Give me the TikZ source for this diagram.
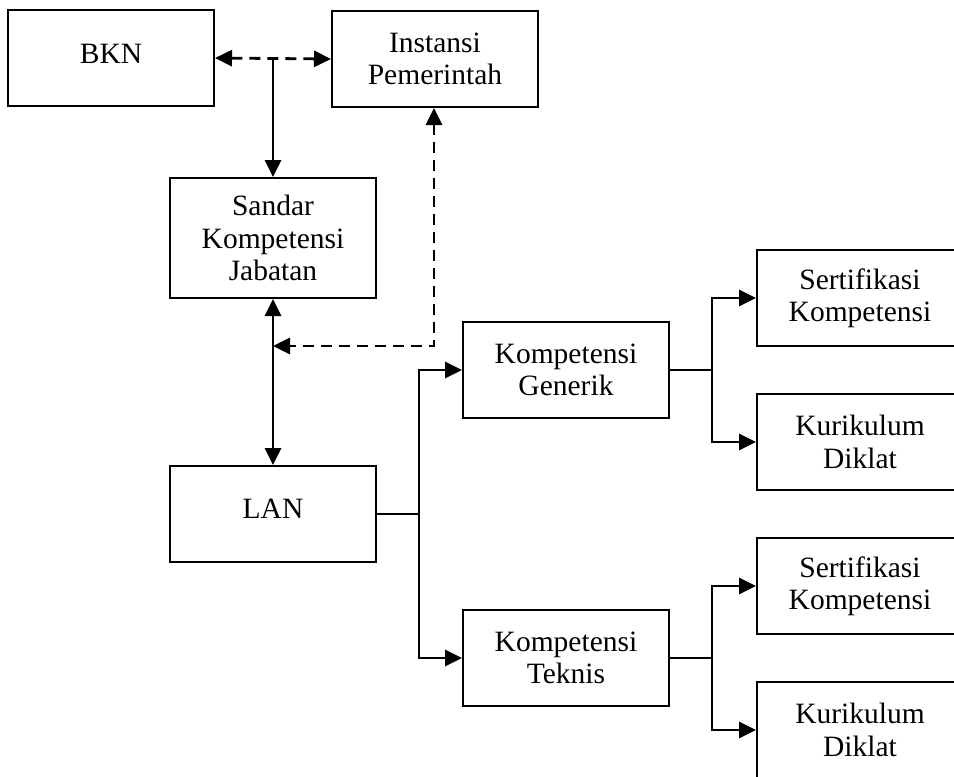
\documentclass[tikz,border=0pt]{standalone}
\usepackage{fontspec}
\setmainfont{Liberation Serif}
\usetikzlibrary{arrows.meta}
\begin{document}
\begin{tikzpicture}[x=1pt,y=-1pt,
  box/.style={draw, line width=2pt, minimum width=206pt, minimum height=96pt, inner sep=0pt, align=center,
    font=\fontsize{29.5}{32.5}\selectfont},
  tip/.style={-{Triangle[length=17pt,width=16pt]}},
  tips/.style={{Triangle[length=17pt,width=16pt]}-{Triangle[length=17pt,width=16pt]}},
  conn/.style={line width=2.8pt},
  thin/.style={line width=1.8pt},
  dsh/.style={line width=2.8pt, dash pattern=on 11pt off 7pt}]
\useasboundingbox (0,0) rectangle (954,777);
\clip (0,0) rectangle (954,777);
\fill[white] (0,0) rectangle (954,777);
\node[box] (bkn) at (111,58) {};
\node[font=\fontsize{29.5}{32.5}\selectfont] (bkntext) at (111,54) {BKN};
\node[box] (ip) at (435,59) {Instansi\\Pemerintah};
\node[box, minimum height=120pt] (skj) at (273,238) {Sandar\\Kompetensi\\Jabatan};
\node[box] (lan) at (273,514) {};
\node[font=\fontsize{29.5}{32.5}\selectfont] (lantext) at (273,509) {LAN};
\node[box] (kg) at (566,370) {Kompetensi\\Generik};
\node[box] (kt) at (566,658) {Kompetensi\\Teknis};
\node[box] (sk1) at (860,298) {Sertifikasi\\Kompetensi};
\node[box] (kd1) at (860,442) {Kurikulum\\Diklat};
\node[box] (sk2) at (860,586) {Sertifikasi\\Kompetensi};
\node[box] (kd2) at (860,730) {Kurikulum\\Diklat};
\coordinate (j1) at (273,58);
\coordinate (j2) at (273,346);
\coordinate (j3) at (419,514);
\coordinate (j4) at (712,370);
\coordinate (j5) at (712,658);
\draw[dsh, tips] (bkn.east) -- (ip.west);
\draw[conn, tip] (j1) -- (skj.north);
\draw[dsh, tips] (ip.south -| 434,0) |- (j2);
\draw[conn, tips] (skj.south) -- (lan.north);
\draw[thin] (lan.east) -- (j3);
\draw[conn, tip] (j3) |- (kg.west);
\draw[conn, tip] (j3) |- (kt.west);
\draw[thin] (kg.east) -- (j4);
\draw[conn, tip] (j4) |- (sk1.west);
\draw[conn, tip] (j4) |- (kd1.west);
\draw[thin] (kt.east) -- (j5);
\draw[conn, tip] (j5) |- (sk2.west);
\draw[conn, tip] (j5) |- (kd2.west);
\end{tikzpicture}
\end{document}
